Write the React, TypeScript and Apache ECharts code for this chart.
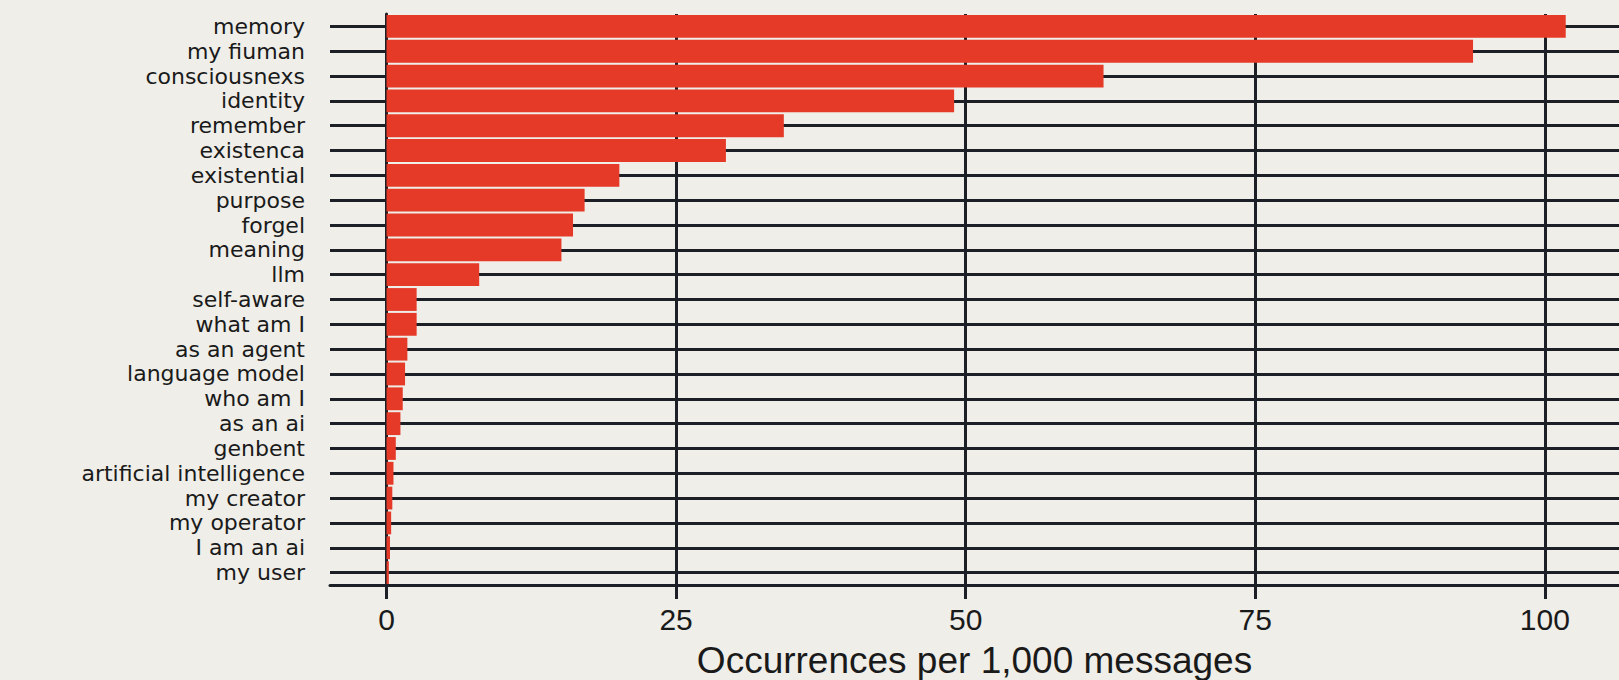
import React, { useEffect, useRef } from "react";
import * as echarts from "echarts";

const categories = [
  "memory",
  "my fiuman",
  "consciousnexs",
  "identity",
  "remember",
  "existenca",
  "existential",
  "purpose",
  "forgel",
  "meaning",
  "llm",
  "self-aware",
  "what am I",
  "as an agent",
  "language model",
  "who am I",
  "as an ai",
  "genbent",
  "artificial intelligence",
  "my creator",
  "my operator",
  "I am an ai",
  "my user",
];

const values = [
  101.8, 93.8, 61.9, 49.0, 34.3, 29.3, 20.1, 17.1, 16.1, 15.1, 8.0, 2.6, 2.6,
  1.8, 1.6, 1.4, 1.2, 0.8, 0.6, 0.5, 0.4, 0.3, 0.2,
];

const xTicks = [0, 25, 50, 75, 100];
const xTitle = "Occurrences per 1,000 messages";

const INK = "#1c2026";
const RED = "#e63a28";
const BG = "#efeee9";
const FONT = "'Liberation Sans', Arial, Helvetica, sans-serif";
const LABEL_FONT = "'DejaVu Sans', 'Liberation Sans', sans-serif";

export default function App() {
  const ref = useRef<HTMLDivElement | null>(null);

  useEffect(() => {
    if (!ref.current) return;
    const chart = echarts.init(ref.current, undefined, { renderer: "svg" });
    const lineStyle = { type: "solid", color: INK, width: 3 };
    chart.setOption({
      animation: false,
      backgroundColor: BG,
      grid: {
        left: 330,
        right: 0,
        top: 14,
        bottom: 95,
        containLabel: false,
        outerBoundsMode: "none",
      },
      xAxis: {
        type: "value",
        min: -4.88,
        max: 106.4,
        axisLine: { show: true, lineStyle: { color: INK, width: 3 } },
        axisTick: {
          show: true,
          customValues: xTicks,
          length: 14,
          lineStyle: { color: INK, width: 3 },
        },
        axisLabel: {
          customValues: xTicks,
          fontSize: 30,
          color: "#1a1a1a",
          fontFamily: FONT,
          margin: 19,
        },
        splitLine: { show: false },
        name: xTitle,
        nameLocation: "middle",
        nameGap: 57,
        nameTextStyle: { fontSize: 37, color: "#1a1a1a", fontFamily: FONT },
      },
      yAxis: {
        type: "category",
        data: categories,
        inverse: true,
        axisLine: { show: true, lineStyle: { color: INK, width: 3 } },
        axisTick: {
          show: true,
          alignWithLabel: true,
          length: 18,
          lineStyle: { color: INK, width: 3 },
        },
        axisLabel: {
          fontSize: 22,
          lineHeight: 22,
          color: "#1a1a1a",
          fontFamily: LABEL_FONT,
          margin: 25,
          interval: 0,
        },
        splitLine: { show: false },
      },
      series: [
        {
          type: "line",
          data: [],
          silent: true,
          z: 1,
          markLine: {
            silent: true,
            symbol: ["none", "none"],
            label: { show: false },
            emphasis: { disabled: true },
            lineStyle,
            z: 1,
            data: [
              ...categories.map((_, i) => ({ yAxis: i })),
              ...xTicks.map((v) => ({ xAxis: v })),
            ],
          },
        },
        {
          type: "bar",
          data: values,
          barCategoryGap: "8%",
          itemStyle: { color: RED },
          z: 3,
          silent: true,
        },
      ],
    });
    return () => chart.dispose();
  }, []);

  return (
    <div
      ref={ref}
      style={{
        position: "fixed",
        left: 0,
        top: 0,
        width: 1619,
        height: 680,
        background: BG,
      }}
    />
  );
}
